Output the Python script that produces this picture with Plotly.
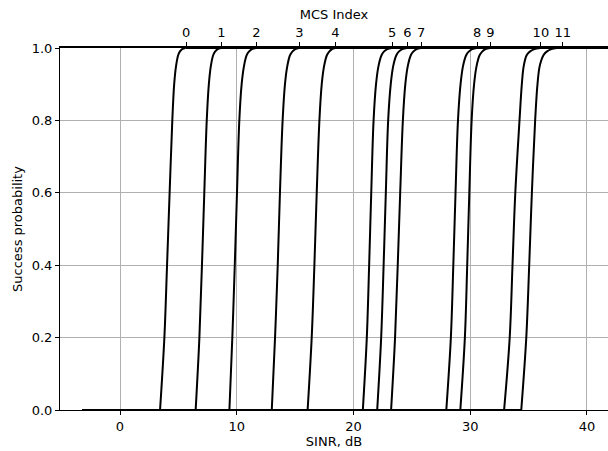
import plotly.graph_objects as go

# Success-probability levels at which each curve's SINR (dB) was read
prob_levels = [0.0, 0.2, 0.4, 0.6, 0.8, 0.9, 0.95, 0.98, 0.99, 0.997, 1.0]

mcs0 = [3.43, 3.80, 4.03, 4.25, 4.48, 4.64, 4.80, 4.98, 5.12, 5.32, 5.60]
mcs1 = [6.48, 6.80, 7.02, 7.22, 7.43, 7.61, 7.78, 7.98, 8.14, 8.36, 8.64]
mcs2 = [9.37, 9.62, 9.83, 10.02, 10.22, 10.42, 10.62, 10.85, 11.04, 11.30, 11.64]
mcs3 = [13.00, 13.28, 13.51, 13.70, 13.93, 14.13, 14.33, 14.56, 14.76, 15.02, 15.32]
mcs4 = [16.07, 16.42, 16.65, 16.85, 17.08, 17.28, 17.48, 17.72, 17.92, 18.16, 18.42]
mcs5 = [20.80, 21.14, 21.34, 21.52, 21.72, 21.93, 22.14, 22.40, 22.60, 22.90, 23.27]
mcs6 = [22.03, 22.37, 22.58, 22.77, 22.97, 23.19, 23.40, 23.67, 23.88, 24.18, 24.58]
mcs7 = [23.22, 23.56, 23.79, 24.00, 24.23, 24.44, 24.65, 24.91, 25.12, 25.40, 25.76]
mcs8 = [27.95, 28.34, 28.55, 28.74, 28.95, 29.17, 29.38, 29.65, 29.87, 30.17, 30.56]
mcs9 = [29.15, 29.54, 29.74, 29.92, 30.12, 30.33, 30.54, 30.80, 31.02, 31.30, 31.70]
mcs10 = [32.90, 33.38, 33.62, 33.86, 34.22, 34.42, 34.58, 34.83, 35.10, 35.50, 35.97]
mcs11 = [34.37, 34.80, 35.05, 35.28, 35.56, 35.76, 35.95, 36.27, 36.55, 36.95, 37.40]

curves = [mcs0, mcs1, mcs2, mcs3, mcs4, mcs5, mcs6, mcs7, mcs8, mcs9, mcs10, mcs11]

# SINR sweep limits (dB)
sinr_start = -3.2
sinr_end = 45.0

# Top axis: MCS index tick positions (dB) and labels
mcs_tick_pos = [5.66, 8.68, 11.68, 15.36, 18.45, 23.31, 24.62, 25.79, 30.59, 31.73, 36.05, 37.93]
mcs_tick_labels = [str(i) for i in range(12)]

x_ticks = [0, 10, 20, 30, 40]
y_ticks = [0.0, 0.2, 0.4, 0.6, 0.8, 1.0]
y_tick_labels = ["0.0", "0.2", "0.4", "0.6", "0.8", "1.0"]

x_range = [-5.14, 41.80]

FONT = "DejaVu Sans, Verdana, sans-serif"
LINE = dict(color="black", width=2)

fig = go.Figure()
for xs in curves:
    # flat parts (p = 0 before the rise, p = 1 after it)
    fig.add_trace(go.Scatter(
        x=[sinr_start, xs[0], None, xs[-1], sinr_end],
        y=[0.0, 0.0, None, 1.0, 1.0],
        mode="lines", line=LINE, showlegend=False, hoverinfo="skip",
    ))
    # rising part
    fig.add_trace(go.Scatter(
        x=xs, y=prob_levels, mode="lines",
        line=dict(color="black", width=2, shape="spline", smoothing=1.0),
        showlegend=False, hoverinfo="skip",
    ))

# invisible trace to bind the top axis
fig.add_trace(go.Scatter(x=[mcs_tick_pos[0]], y=[0.5], xaxis="x2", mode="markers",
                         marker=dict(opacity=0), showlegend=False, hoverinfo="skip"))

fig.update_layout(
    width=608, height=451,
    margin=dict(l=60, r=0, t=48, b=41),
    paper_bgcolor="white", plot_bgcolor="white",
    font=dict(family=FONT, size=13, color="black"),
    xaxis=dict(
        range=x_range, tickvals=x_ticks, ticks="outside", ticklen=4, tickwidth=1,
        tickcolor="black", showline=True, linecolor="black", linewidth=1,
        showgrid=True, gridcolor="#b0b0b0", gridwidth=1, zeroline=False,
        title=dict(text="SINR, dB", standoff=4, font=dict(size=13)),
        tickfont=dict(size=13),
    ),
    xaxis2=dict(
        overlaying="x", side="top", anchor="y", range=x_range,
        tickvals=mcs_tick_pos, ticktext=mcs_tick_labels, ticks="outside", ticklen=4,
        tickwidth=1, tickcolor="black", showline=True, linecolor="black", linewidth=1.5,
        showgrid=False, zeroline=False,
        title=dict(text="MCS Index", standoff=2, font=dict(size=13)),
        tickfont=dict(size=13),
    ),
    yaxis=dict(
        range=[0, 1], tickvals=y_ticks, ticktext=y_tick_labels, ticks="outside",
        ticklen=4, tickwidth=1, tickcolor="black", showline=True, linecolor="black",
        linewidth=1, showgrid=True, gridcolor="#b0b0b0", gridwidth=1, zeroline=False,
        title=dict(text="Success probability", standoff=6, font=dict(size=13)),
        tickfont=dict(size=13),
    ),
)

fig.write_html("out.html")
